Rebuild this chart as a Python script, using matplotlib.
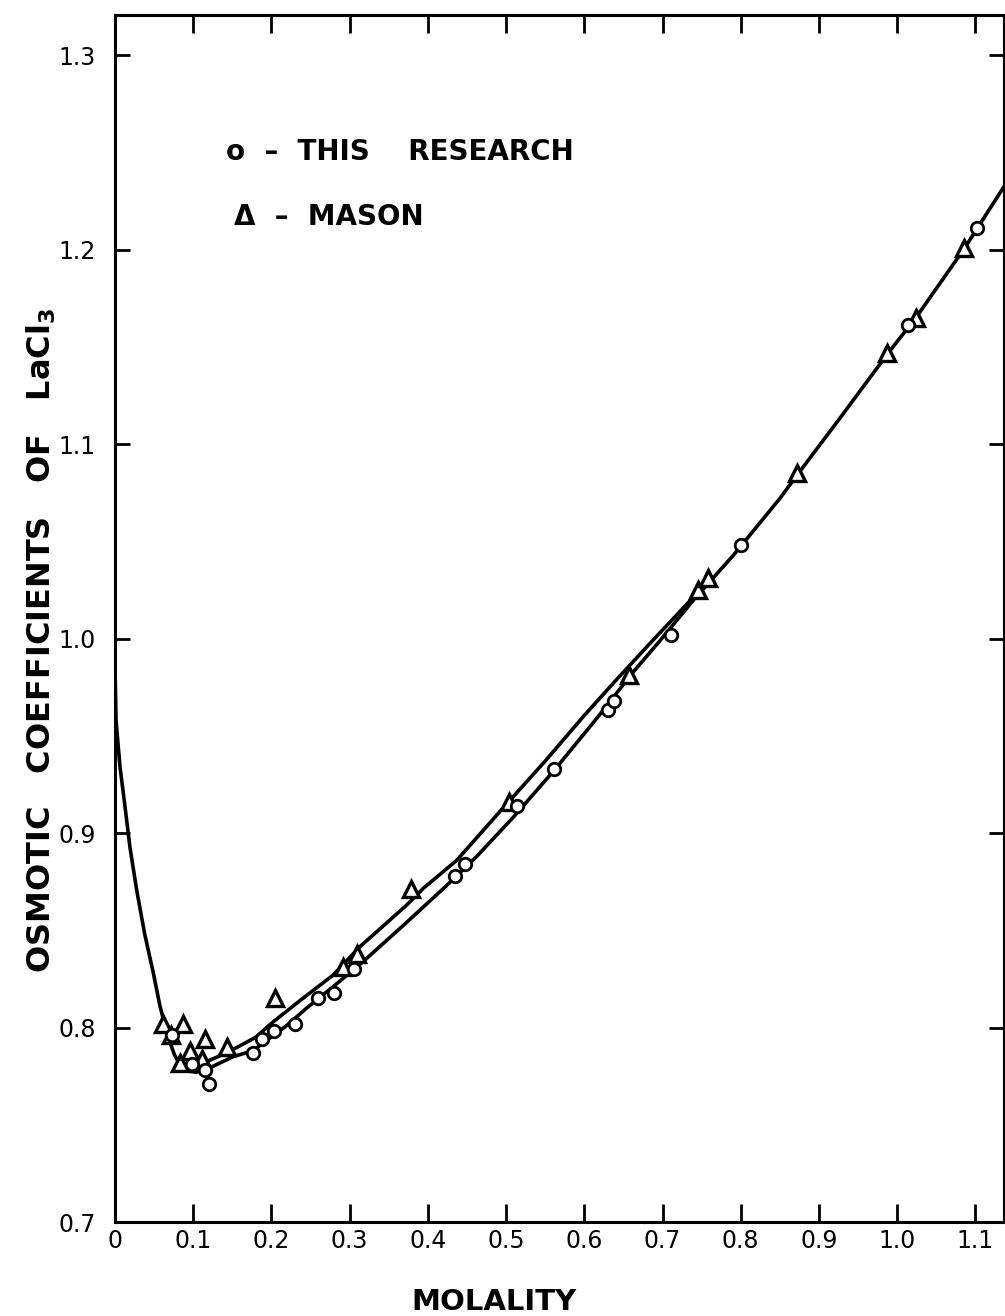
import matplotlib
matplotlib.use("Agg")
import matplotlib.pyplot as plt

plt.rcParams["font.family"] = ["DejaVu Sans"]

# Osmotic coefficients of LaCl3 vs molality
# "This research" points (open circles)
res_m = [0.073, 0.098, 0.115, 0.120, 0.176, 0.188, 0.203, 0.230, 0.260, 0.280,
         0.306, 0.435, 0.448, 0.514, 0.561, 0.630, 0.638, 0.711, 0.800, 1.014, 1.102]
res_phi = [0.796, 0.781, 0.778, 0.771, 0.787, 0.794, 0.798, 0.802, 0.815, 0.818,
           0.830, 0.878, 0.884, 0.914, 0.933, 0.963, 0.968, 1.002, 1.048, 1.161, 1.211]

# Mason's points (open triangles)
mason_m = [0.062, 0.072, 0.087, 0.083, 0.096, 0.111, 0.115, 0.143, 0.205, 0.292,
           0.309, 0.378, 0.504, 0.657, 0.745, 0.758, 0.872, 0.987, 1.024, 1.085]
mason_phi = [0.802, 0.796, 0.802, 0.782, 0.788, 0.784, 0.794, 0.790, 0.815, 0.831,
             0.838, 0.871, 0.916, 0.981, 1.025, 1.031, 1.085, 1.147, 1.165, 1.201]

# Smoothed curve through this research
curve_res_m = [0.0, 0.0013, 0.0064, 0.0128, 0.019, 0.0277, 0.038, 0.049, 0.0575,
               0.068, 0.076, 0.084, 0.095, 0.104, 0.125, 0.151, 0.176, 0.2195,
               0.245, 0.279, 0.3175, 0.37, 0.424, 0.4625, 0.509, 0.561, 0.614,
               0.663, 0.697, 0.74, 0.791, 0.85, 0.872, 0.93, 0.987, 1.024, 1.085, 1.136]
curve_res_phi = [0.985, 0.958, 0.934, 0.9135, 0.893, 0.8707, 0.848, 0.828, 0.811,
                 0.795, 0.786, 0.780, 0.7775, 0.777, 0.780, 0.785, 0.788, 0.801,
                 0.810, 0.821, 0.834, 0.853, 0.873, 0.888, 0.908, 0.932, 0.958,
                 0.983, 0.999, 1.020, 1.043, 1.072, 1.084, 1.115, 1.146, 1.165, 1.200, 1.232]

# Curve through Mason's data (joins the other one above 0.75 m)
curve_mason_m = [0.084, 0.100, 0.120, 0.143, 0.180, 0.2025, 0.237, 0.279, 0.313,
                 0.373, 0.394, 0.437, 0.492, 0.550, 0.599, 0.6415, 0.684, 0.740, 0.760]
curve_mason_phi = [0.780, 0.782, 0.783, 0.787, 0.795, 0.803, 0.814, 0.827, 0.8415,
                   0.863, 0.8715, 0.886, 0.911, 0.937, 0.960, 0.979, 0.9975, 1.0215, 1.030]

x_ticks = [0.0, 0.1, 0.2, 0.3, 0.4, 0.5, 0.6, 0.7, 0.8, 0.9, 1.0, 1.1]
x_ticklabels = ["0", "0.1", "0.2", "0.3", "0.4", "0.5", "0.6", "0.7", "0.8", "0.9", "1.0", "1.1"]
y_ticks = [0.7, 0.8, 0.9, 1.0, 1.1, 1.2, 1.3]
y_ticklabels = ["0.7", "0.8", "0.9", "1.0", "1.1", "1.2", "1.3"]

W, H = 1005, 1316
fig = plt.figure(figsize=(W / 100, H / 100), dpi=100)
ax = fig.add_axes([115 / W, 1 - 1222 / H, (1004 - 115) / W, (1222 - 15) / H])

ax.plot(curve_res_m, curve_res_phi, color="black", lw=2.6, solid_capstyle="round",
        solid_joinstyle="round", zorder=2)
ax.plot(curve_mason_m, curve_mason_phi, color="black", lw=2.6, solid_capstyle="round",
        solid_joinstyle="round", zorder=2)

ax.plot(res_m, res_phi, ls="none", marker="o", ms=9, mfc="white", mec="black",
        mew=2.0, zorder=4)
ax.plot(mason_m, mason_phi, ls="none", marker="^", ms=12, mfc="white", mec="black",
        mew=2.4, zorder=3)

ax.set_xlim(0, 1.1366)
ax.set_ylim(0.7, 1.3206)

ax.set_xticks(x_ticks)
ax.set_xticklabels(x_ticklabels)
ax.set_yticks(y_ticks)
ax.set_yticklabels(y_ticklabels)

ax.tick_params(axis="x", direction="in", length=13, width=2, top=True, bottom=True,
               labelsize=17, pad=5)
ax.tick_params(axis="y", direction="in", length=11, width=2, left=True, right=True,
               labelsize=17, pad=14)
for s in ax.spines.values():
    s.set_linewidth(2.2)

ax.set_xlabel("MOLALITY", fontsize=21, fontweight="bold")
ax.xaxis.set_label_coords(0.426, -0.055)
ax.set_ylabel("OSMOTIC   COEFFICIENTS   OF   LaCl$_\\mathbf{3}$", fontsize=23,
              fontweight="bold")
ax.yaxis.set_label_coords(-0.064, 0.482)

ax.text(0.125, 0.8865, "o  –  THIS    RESEARCH", transform=ax.transAxes, fontsize=20,
        fontweight="bold", va="center", ha="left")
ax.text(0.134, 0.8326, "Δ  –  MASON", transform=ax.transAxes, fontsize=20,
        fontweight="bold", va="center", ha="left")

fig.savefig("out.png", dpi=100, facecolor="white")
